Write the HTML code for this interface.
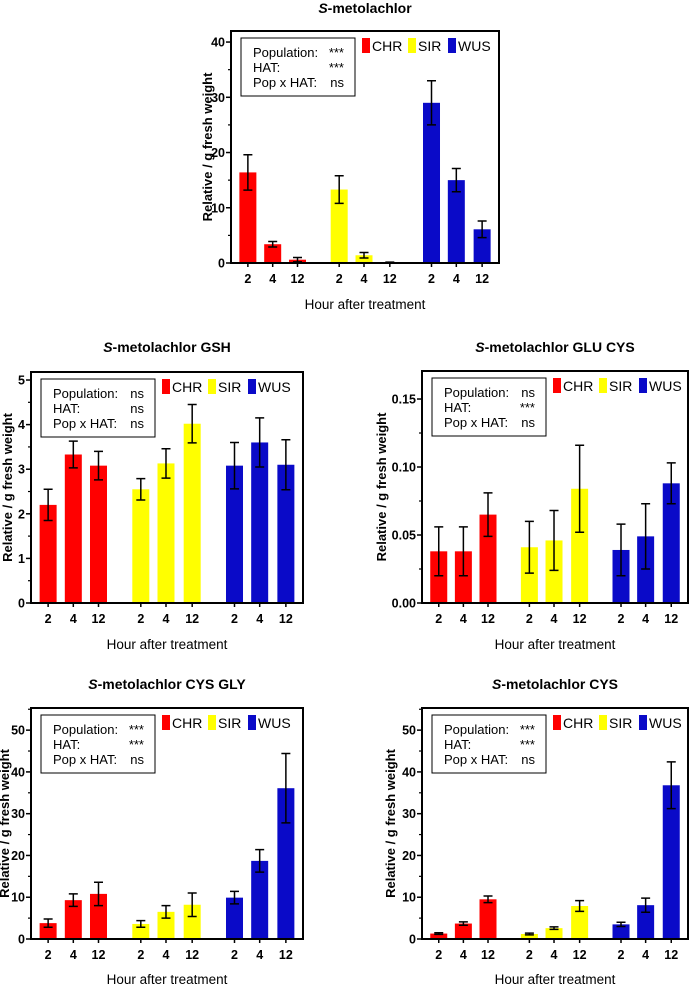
<!DOCTYPE html>
<html><head><meta charset="utf-8"><style>
body{margin:0;background:#fff;}
svg text{font-family:"Liberation Sans",Arial,sans-serif;}
</style></head><body>
<svg id="c" width="695" height="986" xmlns="http://www.w3.org/2000/svg"></svg>
<script>
const categories=["2","4","12","2","4","12","2","4","12"];
const populations=["CHR","SIR","WUS"];
const meltValues=[16.4,3.4,0.6,13.3,1.4,0.1,29,15,6.1];
const meltErrors=[3.2,0.5,0.4,2.5,0.5,0.05,4,2.1,1.5];
const gshValues=[2.2,3.33,3.08,2.55,3.13,4.02,3.08,3.6,3.1];
const gshErrors=[0.35,0.3,0.32,0.24,0.33,0.43,0.52,0.55,0.56];
const gluValues=[0.038,0.038,0.065,0.041,0.046,0.084,0.039,0.049,0.088];
const gluErrors=[0.018,0.018,0.016,0.019,0.022,0.032,0.019,0.024,0.015];
const cgValues=[3.8,9.3,10.8,3.6,6.5,8.2,9.9,18.7,36.1];
const cgErrors=[1,1.5,2.8,0.8,1.5,2.8,1.5,2.7,8.3];
const cysValues=[1.3,3.7,9.5,1.2,2.6,7.9,3.5,8.1,36.8];
const cysErrors=[0.2,0.4,0.8,0.2,0.3,1.3,0.5,1.7,5.6];
const meltTicks=[0,10,20,30,40];
const gshTicks=[0,1,2,3,4,5];
const gluTicks=["0.00","0.05","0.10","0.15"];
const cgTicks=[0,10,20,30,40,50];
const statsA=["***","***","ns"];
const statsB=["ns","ns","ns"];
const statsC=["ns","***","ns"];

const NS="http://www.w3.org/2000/svg";
const svg=document.getElementById('c');
const colors=["#ff0000","#ffff00","#0a0ac8"];
function mk(tag,attrs,parent){const e=document.createElementNS(NS,tag);for(const k in attrs)e.setAttribute(k,attrs[k]);(parent||svg).appendChild(e);return e;}
function txt(s,attrs,parent){const e=mk('text',attrs,parent);e.textContent=s;return e;}

function panel(o){
  const g=mk('g',{});
  
  
  const L=o.left,R=o.right,T=o.top,Z=o.zero;
  const y=v=>Z-(v/o.ymax)*(Z-T);
  const offs=[17,42,67,109,134,160,202,227,253];
  const x=i=>L+offs[i]*(R-L)/270;
  const t=txt('',{x:(L+R)/2,y:o.titleY,'text-anchor':'middle','font-size':'14','font-weight':'bold'},g);
  
  
  const ts=mk('tspan',{'font-style':'italic'},t);ts.textContent='S';
  const ts2=mk('tspan',{},t);ts2.textContent='-metolachlor'+o.suffix;
  o.values.forEach((v,i)=>{
    const b=mk('rect',{x:x(i)-8.5,y:y(v),width:17,height:Z-y(v),fill:colors[Math.floor(i/3)]},g);
    
    
    const e=o.errors[i],y1=y(v+e),y2=y(Math.max(0,v-e));
    const eb=mk('path',{d:`M${x(i)} ${y1}V${y2}M${x(i)-4.5} ${y1}H${x(i)+4.5}M${x(i)-4.5} ${y2}H${x(i)+4.5}`,stroke:'#000','stroke-width':1.5,fill:'none'},g);
    
    
    const tl=txt(categories[i],{x:x(i),y:Z+20,'text-anchor':'middle','font-size':'12.5','font-weight':'bold'},g);
    
    
    mk('line',{x1:x(i),x2:x(i),y1:Z,y2:Z+4,stroke:'#000','stroke-width':1.5},g);
  });
  const fr=mk('rect',{x:L,y:T,width:R-L,height:Z-T,fill:'none',stroke:'#000','stroke-width':2},g);
  
  
  o.ticks.forEach(tk=>{
    const v=parseFloat(tk);
    mk('line',{x1:L-5,x2:L,y1:y(v),y2:y(v),stroke:'#000','stroke-width':1.5},g);
    const tl=txt(String(tk),{x:L-6,y:y(v)+4.5,'text-anchor':'end','font-size':'12.5','font-weight':'bold'},g);
    
    
  });
  for(let v=o.minor;v<o.ymax;v+=o.minor*2){
    mk('line',{x1:L-3,x2:L,y1:y(v),y2:y(v),stroke:'#000','stroke-width':1.2},g);
  }
  const yt=txt('Relative / g fresh weight',{x:0,y:0,'text-anchor':'middle','font-size':'13','font-weight':'bold',transform:`translate(${L-o.ytOff},${(T+Z)/2}) rotate(-90)`},g);
  
  
  const xt=txt('Hour after treatment',{x:(L+R)/2,y:o.xtY,'text-anchor':'middle','font-size':'13.5'},g);
  
  
  const bx=mk('rect',{x:L+10,y:T+7,width:114,height:58,fill:'#fff',stroke:'#000','stroke-width':1},g);
  
  
  const labels=["Population:","HAT:","Pop x HAT:"];
  labels.forEach((lb,i)=>{
    const yy=T+26+i*15;
    const a=txt(lb,{x:L+22,y:yy,'font-size':'13'},g);
    
    
    const b=txt(o.stats[i],{x:L+113,y:yy,'text-anchor':'end','font-size':'13'},g);
    
    
  });
  const lx=[L+131,L+177,L+217];
  populations.forEach((p,i)=>{
    const sw=mk('rect',{x:lx[i],y:T+7,width:8,height:15,fill:colors[i]},g);
    
    
    const lt=txt(p,{x:lx[i]+10,y:T+20,'font-size':'14'},g);
    
    
  });
}

panel({name:'chart-metolachlor',suffix:'',left:231,right:499,top:31,zero:263,ymax:42,ticks:meltTicks,minor:5,values:meltValues,errors:meltErrors,stats:statsA,titleY:13,xtY:309,ytOff:19});
panel({name:'chart-gsh',suffix:' GSH',left:31,right:303,top:372,zero:603,ymax:5.18,ticks:gshTicks,minor:0.5,values:gshValues,errors:gshErrors,stats:statsB,titleY:352,xtY:649,ytOff:19});
panel({name:'chart-glu-cys',suffix:' GLU CYS',left:422,right:688,top:371,zero:603,ymax:0.1706,ticks:gluTicks,minor:0.025,values:gluValues,errors:gluErrors,stats:statsC,titleY:352,xtY:649,ytOff:36});
panel({name:'chart-cys-gly',suffix:' CYS GLY',left:31,right:303,top:708,zero:939,ymax:55.3,ticks:cgTicks,minor:5,values:cgValues,errors:cgErrors,stats:statsA,titleY:689,xtY:984,ytOff:22});
panel({name:'chart-cys',suffix:' CYS',left:422,right:688,top:708,zero:939,ymax:55.3,ticks:cgTicks,minor:5,values:cysValues,errors:cysErrors,stats:statsA,titleY:689,xtY:984,ytOff:27});
</script>
</body></html>
